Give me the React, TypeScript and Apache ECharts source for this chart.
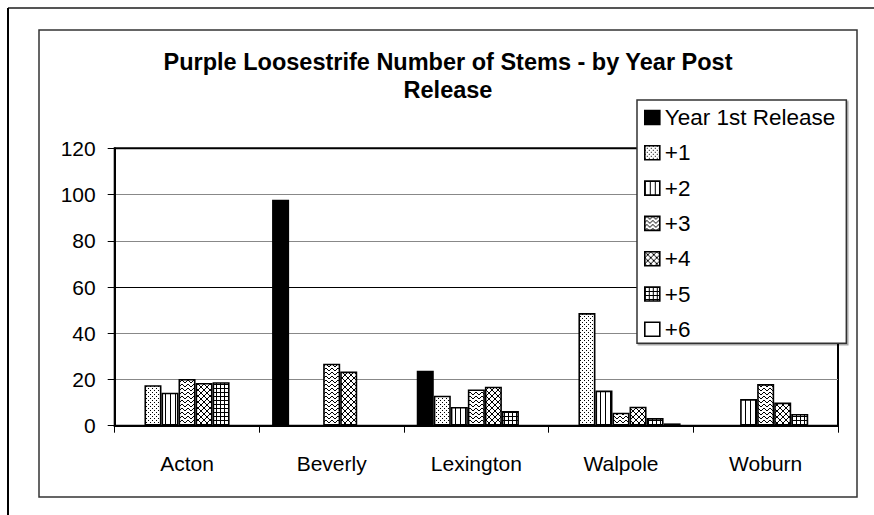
import React, { useEffect, useRef } from "react";
import * as echarts from "echarts";

const categories = ["Acton", "Beverly", "Lexington", "Walpole", "Woburn"];
const seriesNames = ["Year 1st Release", "+1", "+2", "+3", "+4", "+5", "+6"];
const year1 = [null, 97.7, 23.8, null, null];
const plus1 = [17.5, null, 13, 48.7, null];
const plus2 = [14.3, null, 8.1, 15.2, 11.5];
const plus3 = [20.2, 26.8, 15.7, 5.6, 18];
const plus4 = [18.5, 23.4, 16.9, 8.2, 10];
const plus5 = [18.8, null, 6.4, 3.3, 5.1];
const plus6 = [null, null, null, 1, null];
const yTicks = { min: 0, max: 120, interval: 20 };

const FONT = "'Liberation Sans', Arial, sans-serif";

function makePattern(w: number, h: number, draw: (ctx: CanvasRenderingContext2D) => void) {
  const c = document.createElement("canvas");
  c.width = w;
  c.height = h;
  const ctx = c.getContext("2d")!;
  ctx.fillStyle = "#fff";
  ctx.fillRect(0, 0, w, h);
  ctx.fillStyle = "#000";
  draw(ctx);
  return { image: c, repeat: "repeat" } as any;
}

export default function App() {
  const ref = useRef<HTMLDivElement>(null);
  useEffect(() => {
    if (!ref.current) return;
    const chart = echarts.init(ref.current, null, { renderer: "svg" });

    const dots = makePattern(4, 4, (c) => {
      c.fillRect(0, 0, 1, 1);
      c.fillRect(2, 2, 1, 1);
    });
    const vert = makePattern(5, 2, (c) => {
      c.fillRect(0, 0, 1, 2);
    });
    const wave = makePattern(6, 4, (c) => {
      c.fillRect(0, 1, 1, 1);
      c.fillRect(1, 0, 2, 1);
      c.fillRect(3, 1, 1, 1);
      c.fillRect(4, 2, 2, 1);
    });
    const diamond = makePattern(6, 6, (c) => {
      for (let i = 0; i < 6; i++) {
        c.fillRect(i, i, 1, 1);
        c.fillRect(5 - i, i, 1, 1);
      }
    });
    const grid = makePattern(4, 4, (c) => {
      c.fillRect(0, 0, 4, 1);
      c.fillRect(0, 0, 1, 4);
    });
    const fills: any[] = ["#000", dots, vert, wave, diamond, grid, "#fff"];
    const data = [year1, plus1, plus2, plus3, plus4, plus5, plus6];

    chart.setOption({
      animation: false,
      textStyle: { fontFamily: FONT },
      graphic: [
        { type: "line", shape: { x1: 8, y1: 8, x2: 874, y2: 8 }, style: { stroke: "#555", lineWidth: 2 } },
        { type: "line", shape: { x1: 8, y1: 8, x2: 8, y2: 515 }, style: { stroke: "#000", lineWidth: 2 } },
        {
          type: "rect",
          shape: { x: 39, y: 30, width: 818, height: 467 },
          style: { fill: "none", stroke: "#333", lineWidth: 1.5 },
          z: -1,
        },
        {
          type: "text",
          x: 448,
          y: 76,
          style: {
            text: "Purple Loosestrife Number of Stems - by Year Post\nRelease",
            fontFamily: FONT,
            fontWeight: "bold",
            fontSize: 23.5,
            lineHeight: 28,
            fill: "#000",
            align: "center",
            verticalAlign: "middle",
          },
        },
      ],
      grid: {
        left: 114.7,
        right: 36,
        top: 148.3,
        bottom: 89.3,
        show: true,
        borderColor: "#000",
        borderWidth: 2,
        backgroundColor: "transparent",
      },
      legend: {
        orient: "vertical",
        left: 637,
        top: 100,
        padding: [6, 11, 2.5, 7],
        backgroundColor: "#fff",
        borderColor: "#333",
        borderWidth: 1.5,
        shadowColor: "rgba(0,0,0,0.35)",
        shadowOffsetX: 1.5,
        shadowOffsetY: 1.5,
        itemWidth: 15,
        itemHeight: 14,
        itemGap: 12.3,
        icon: "rect",
        itemStyle: { borderColor: "#000", borderWidth: 1.6 },
        textStyle: { fontFamily: FONT, fontSize: 22.5, color: "#000", lineHeight: 22 },
        data: seriesNames,
        z: 10,
      },
      xAxis: {
        type: "category",
        data: categories,
        axisLine: { lineStyle: { color: "#000", width: 2 } },
        axisTick: { show: true, length: 7, lineStyle: { color: "#000", width: 1 } },
        axisLabel: { fontFamily: FONT, fontSize: 21, color: "#000", margin: 27 },
      },
      yAxis: {
        type: "value",
        min: yTicks.min,
        max: yTicks.max,
        interval: yTicks.interval,
        axisLine: { show: true, lineStyle: { color: "#000", width: 2 } },
        axisTick: { show: true, length: 7, lineStyle: { color: "#000", width: 1 } },
        axisLabel: { fontFamily: FONT, fontSize: 21, color: "#000", margin: 19 },
        splitLine: {
          show: true,
          lineStyle: { color: ["#000", "#888", "#888", "#000", "#888", "#888", "#000"], width: 1.2 },
        },
      },
      series: seriesNames.map((name, i) => ({
        name,
        type: "bar",
        data: data[i],
        barGap: "0%",
        barCategoryGap: "17.6%",
        itemStyle: { color: fills[i], borderColor: "#000", borderWidth: 1.6 },
      })),
    });
    return () => chart.dispose();
  }, []);
  return (
    <div
      ref={ref}
      style={{ position: "absolute", left: 0, top: 0, width: 874, height: 515, background: "#fff" }}
    />
  );
}
